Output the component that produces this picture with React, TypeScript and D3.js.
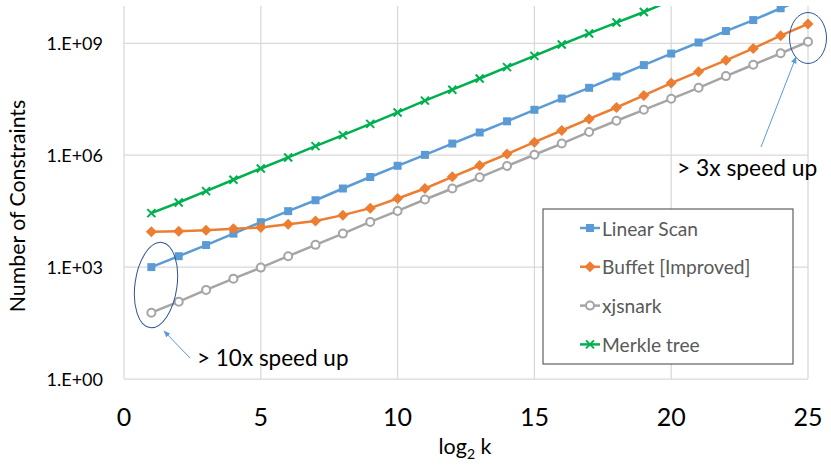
import React from "react";
import * as d3 from "d3";

const kValues = [1,2,3,4,5,6,7,8,9,10,11,12,13,14,15,16,17,18,19,20,21,22,23,24,25];
const linearScan = [1000,1960,3900,7900,16000,31600,62000,128000,260000,520000,1.02e6,2.05e6,4.06e6,8.1e6,1.65e7,3.3e7,6.4e7,1.29e8,2.6e8,5.3e8,1.05e9,2.13e9,4.2e9,8.7e9,1.7e10];
const buffetImproved = [8900,9200,9800,10600,11500,14100,17300,24700,38000,69000,128000,263000,530000,1.07e6,2.24e6,4.6e6,9.4e6,1.9e7,4.0e7,8.6e7,1.74e8,3.5e8,7.3e8,1.6e9,3.3e9];
const xjsnark = [60,118,245,490,970,1960,3950,7900,16300,32000,65000,128000,255000,515000,1.03e6,2.05e6,4.2e6,8.4e6,1.65e7,3.25e7,6.4e7,1.32e8,2.66e8,5.4e8,1.1e9];
const merkleK = [1,2,3,4,5,6,7,8,9,10,11,12,13,14,15,16,17,18,19,20];
const merkleTree = [28000,54000,109000,220000,440000,870000,1.75e6,3.45e6,6.9e6,1.4e7,2.9e7,5.7e7,1.14e8,2.3e8,4.6e8,9.3e8,1.84e9,3.6e9,6.9e9,1.4e10];

const xTicks = [0,5,10,15,20,25];
const yTicks = [1,1e3,1e6,1e9];
const yTickLabels = ["1.E+00","1.E+03","1.E+06","1.E+09"];
const seriesNames = ["Linear Scan","Buffet [Improved]","xjsnark","Merkle tree"];

const FONT = "Lato, 'Open Sans', sans-serif";
const W = 831, H = 467;
const plot = { left: 124, right: 808, top: 6, bottom: 379 };

const BLUE = "#5B9BD5", ORANGE = "#ED7D31", GRAY = "#A5A5A5", GREEN = "#00B050";

function Marker({ type, x, y }: { type: string; x: number; y: number }) {
  if (type === "square") return <rect x={x - 4} y={y - 4} width={8} height={8} fill={BLUE} />;
  if (type === "diamond") return <path d={`M${x},${y - 5.5}L${x + 5.5},${y}L${x},${y + 5.5}L${x - 5.5},${y}Z`} fill={ORANGE} />;
  if (type === "circle") return <circle cx={x} cy={y} r={4} fill="white" stroke={GRAY} strokeWidth={2} />;
  return <path d={`M${x - 4},${y - 4}L${x + 4},${y + 4}M${x - 4},${y + 4}L${x + 4},${y - 4}`} stroke={GREEN} strokeWidth={2} />;
}

export default function App() {
  const x = d3.scaleLinear().domain([0, 25]).range([plot.left, plot.right]);
  const y = d3.scaleLog().domain([1, 1e10]).range([plot.bottom, plot.top]);
  const line = d3.line<[number, number]>().x(d => x(d[0])).y(d => y(d[1]));

  const series = [
    { name: seriesNames[0], ks: kValues, vals: linearScan, color: BLUE, marker: "square" },
    { name: seriesNames[1], ks: kValues, vals: buffetImproved, color: ORANGE, marker: "diamond" },
    { name: seriesNames[2], ks: kValues, vals: xjsnark, color: GRAY, marker: "circle" },
    { name: seriesNames[3], ks: merkleK, vals: merkleTree, color: GREEN, marker: "x" },
  ];
  const drawOrder = [3, 0, 1, 2];

  const legend = { x: 543, y: 209, w: 250, h: 155 };

  return (
    <svg width={W} height={H} style={{ position: "absolute", left: 0, top: 0, background: "white" }} fontFamily={FONT}>
      <defs>
        <clipPath id="plotclip">
          <rect x={plot.left - 10} y={plot.top} width={plot.right - plot.left + 30} height={plot.bottom - plot.top + 10} />
        </clipPath>
        <marker id="arrow" viewBox="0 0 10 10" refX="9" refY="5" markerWidth="7" markerHeight="7" orient="auto">
          <path d="M0,1L10,5L0,9Z" fill={BLUE} />
        </marker>
      </defs>
      {xTicks.map(t => (
        <line key={"gx" + t} x1={x(t)} x2={x(t)} y1={plot.top} y2={plot.bottom} stroke="#d9d9d9" strokeWidth={1.25} />
      ))}
      {yTicks.map(t => (
        <line key={"gy" + t} x1={plot.left} x2={plot.right} y1={y(t)} y2={y(t)} stroke="#d9d9d9" strokeWidth={1.25} />
      ))}
      {yTicks.map((t, i) => (
        <text key={"yl" + t} x={103} y={y(t)} textAnchor="end" dominantBaseline="central" fontSize={18} fill="#000">{yTickLabels[i]}</text>
      ))}
      {xTicks.map(t => (
        <text key={"xl" + t} x={x(t)} y={416} textAnchor="middle" dominantBaseline="central" fontSize={25} fill="#000">{t}</text>
      ))}
      <text x={465} y={454} textAnchor="middle" fontSize={21.5} fill="#000">
        log<tspan fontSize={14} dy={5}>2</tspan><tspan dy={-5}> k</tspan>
      </text>
      <text transform="translate(25,206) rotate(-90)" textAnchor="middle" fontSize={21.3} fill="#000">Number of Constraints</text>

      <g clipPath="url(#plotclip)">
        {drawOrder.map(si => {
          const s = series[si];
          const pts: [number, number][] = s.ks.map((k, i) => [k, s.vals[i]]);
          return (
            <g key={s.name}>
              <path d={line(pts) || ""} fill="none" stroke={s.color} strokeWidth={2.5} />
              {pts.map((p, i) => <Marker key={i} type={s.marker} x={x(p[0])} y={y(p[1])} />)}
            </g>
          );
        })}
      </g>

      <rect x={legend.x} y={legend.y} width={legend.w} height={legend.h} fill="white" stroke="#404040" strokeWidth={1} />
      {series.map((s, i) => {
        const cy = 228 + i * 38.8;
        return (
          <g key={"lg" + i}>
            <line x1={580} x2={600} y1={cy} y2={cy} stroke={s.color} strokeWidth={2.5} />
            <Marker type={s.marker} x={590} y={cy} />
            <text x={602} y={cy} dominantBaseline="central" fontSize={19.2} fill="#595959">{s.name}</text>
          </g>
        );
      })}

      <ellipse cx={156} cy={285} rx={21} ry={43} transform="rotate(8,156,285)" fill="none" stroke="#2F5597" strokeWidth={1} />
      <line x1={190} y1={358} x2={164} y2={331} stroke={BLUE} strokeWidth={1} markerEnd="url(#arrow)" />
      <text x={197} y={366} fontSize={22.5} fill="#000">&gt; 10x speed up</text>

      <ellipse cx={808} cy={38} rx={18.5} ry={25.5} fill="none" stroke="#2F5597" strokeWidth={1} />
      <line x1={761} y1={147} x2={796} y2={57} stroke={BLUE} strokeWidth={1} markerEnd="url(#arrow)" />
      <text x={677} y={176} fontSize={22.8} fill="#000">&gt; 3x speed up</text>
    </svg>
  );
}
